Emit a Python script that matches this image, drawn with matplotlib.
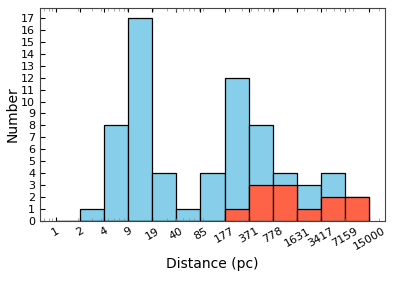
import numpy as np
import matplotlib
matplotlib.use("Agg")
import matplotlib.pyplot as plt
from matplotlib.ticker import FixedLocator, FixedFormatter

# bin edges (pc) and counts
edges = [1, 2.095, 4.387, 9.19, 19.25, 40.33, 84.5, 177, 371, 778, 1631, 3417, 7159, 15000]
edge_labels = ["1", "2", "4", "9", "19", "40", "85", "177", "371", "778", "1631", "3417", "7159", "15000"]
all_counts = [0, 1, 8, 17, 4, 1, 4, 12, 8, 4, 3, 4, 2]
sub_counts = [0, 0, 0, 0, 0, 0, 0, 1, 3, 3, 1, 2, 2]

centers = np.sqrt(np.array(edges[:-1]) * np.array(edges[1:]))

fig = plt.figure(figsize=(3.97, 2.81), dpi=100)
ax = fig.add_axes([0.101, 0.214, 0.869, 0.758])

ax.hist(centers, bins=edges, weights=all_counts, color="skyblue", edgecolor="black", linewidth=0.9)
ax.hist(centers, bins=edges, weights=sub_counts, color="tomato", edgecolor="black", linewidth=0.9)

ax.set_xscale("log")
ax.xaxis.set_major_locator(FixedLocator(edges))
ax.xaxis.set_major_formatter(FixedFormatter(edge_labels))
ax.set_yticks(range(0, 18))

ax.tick_params(axis="both", which="both", direction="in", top=True, labelsize=8)
ax.tick_params(axis="x", which="major", length=3)
ax.tick_params(axis="x", which="minor", length=2, width=0.5, color="#888888")
plt.setp(ax.get_xticklabels(), rotation=30)

for s in ax.spines.values():
    s.set_color("#444444")

ax.set_xlabel("Distance (pc)", fontsize=10)
ax.set_ylabel("Number", fontsize=10, labelpad=1)

fig.savefig("out.png", dpi=100)
